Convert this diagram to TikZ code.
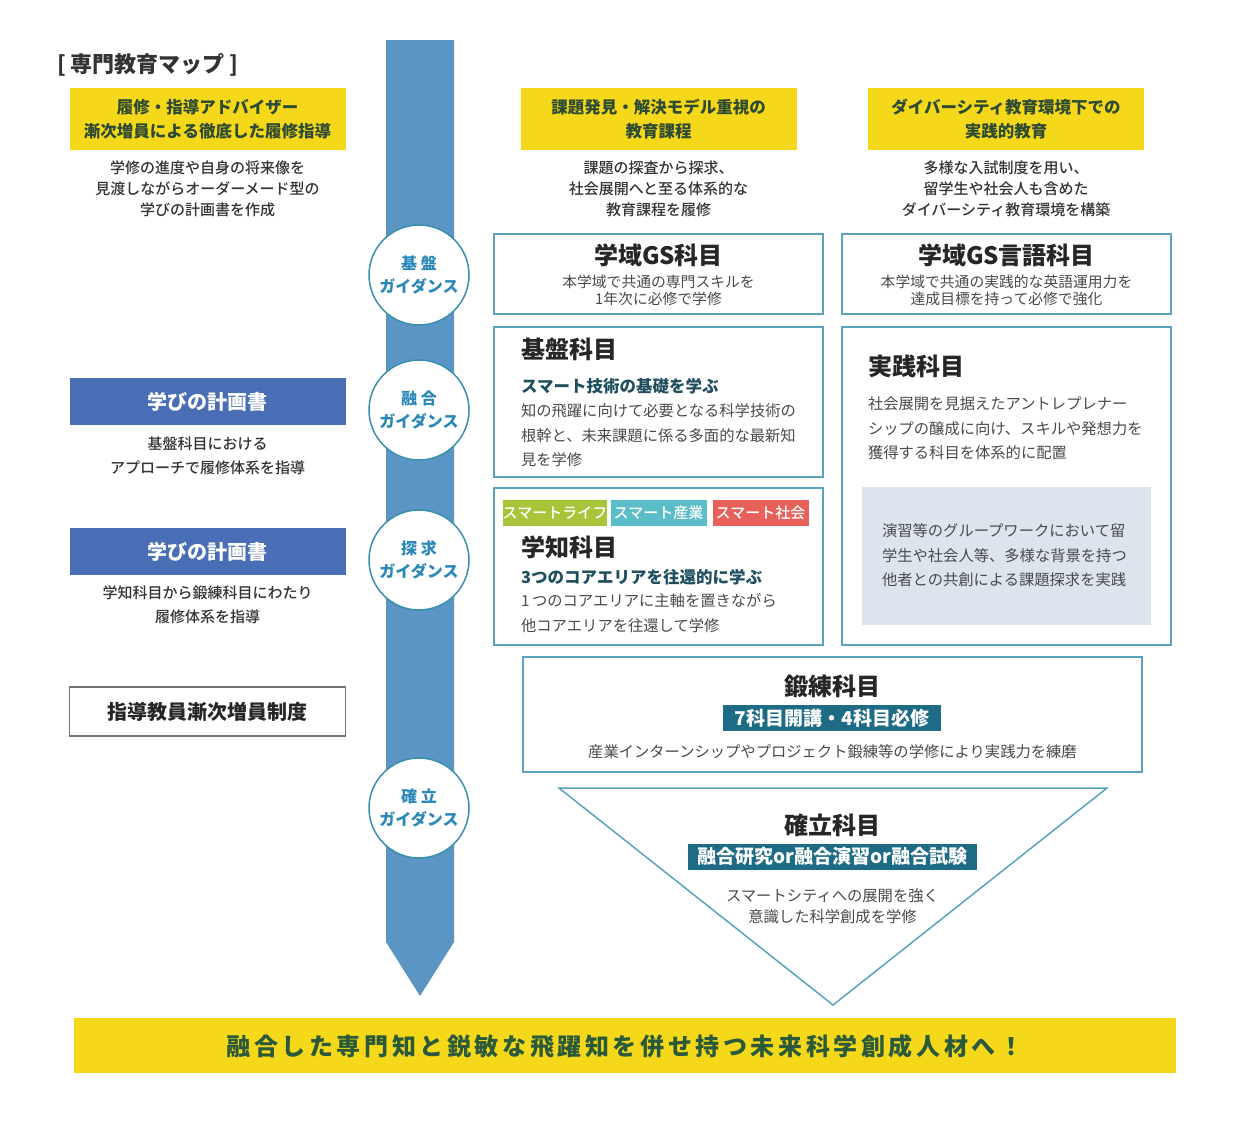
\documentclass[tikz,border=0pt]{standalone}
\usepackage{fontspec}
\setmainfont{Noto Sans CJK JP}
\newfontfamily\mediumfont{Noto Sans CJK JP Medium}
\definecolor{yel}{HTML}{F6D81A}
\definecolor{ygreen}{HTML}{2D4A32}
\definecolor{barblue}{HTML}{5A95C3}
\definecolor{guideline}{HTML}{3A8FB0}
\definecolor{guidetext}{HTML}{2A88B8}
\definecolor{frameblue}{HTML}{5AA2C0}
\definecolor{planblue}{HTML}{4A6EB6}
\definecolor{labteal}{HTML}{1E6B85}
\definecolor{subteal}{HTML}{1F4F5F}
\definecolor{txt}{HTML}{333333}
\definecolor{btxt}{HTML}{4A4A4A}
\definecolor{innerbg}{HTML}{DCE4EE}
\definecolor{tgreen}{HTML}{A8C43A}
\definecolor{tteal}{HTML}{5BBDC8}
\definecolor{tred}{HTML}{E8605A}
\definecolor{bannertext}{HTML}{2B5A3A}
\begin{document}
\begin{tikzpicture}[x=1pt,y=-1pt,
  every node/.style={inner sep=0pt, outer sep=0pt},
  ybox/.style={fill=yel, minimum width=276, minimum height=62, text=ygreen, align=center,
    font=\fontsize{16.5}{24}\selectfont\bfseries},
  desc/.style={text=txt, align=center, font=\fontsize{15}{21}\selectfont\mediumfont},
  bbox/.style={fill=planblue, text=white, minimum width=276, minimum height=47,
    font=\fontsize{20}{24}\selectfont\bfseries},
  frame/.style={draw=frameblue, line width=1.5},
  guide/.style={circle, draw=guideline, fill=white, line width=1.5, minimum size=100,
    text=guidetext, align=center, font=\fontsize{16}{23}\selectfont\bfseries},
  ttl/.style={text=black!85, font=\fontsize{24}{28}\selectfont\bfseries},
  subt/.style={text=subteal, font=\fontsize{16.5}{20}\selectfont\bfseries},
  bodyl/.style={text=btxt, align=left, font=\fontsize{15.3}{24.5}\selectfont},
  bodyc/.style={text=btxt, align=center, font=\fontsize{14.8}{17}\selectfont},
  tagbox/.style={text=white, minimum width=96, minimum height=26, font=\fontsize{15}{16}\selectfont\mediumfont},
  labbox/.style={fill=labteal, text=white, minimum height=26, font=\fontsize{19}{22}\selectfont\bfseries}
]
\useasboundingbox (0,0) rectangle (1251,1141);
\fill[white] (0,0) rectangle (1251,1141);

% central bar
\fill[barblue] (386,40) -- (454,40) -- (454,942) -- (420,996) -- (386,942) -- cycle;

% title
\node[anchor=west, text=txt, font=\fontsize{22}{24}\selectfont\bfseries] (title) at (57,65) {[ 専門教育マップ ]};

% left column
\node[ybox] (ly) at (207.5,119) {履修・指導アドバイザー\\漸次増員による徹底した履修指導};
\node[desc] (ld) at (207.5,189) {学修の進度や自身の将来像を\\見渡しながらオーダーメード型の\\学びの計画書を作成};
\node[bbox] (lb1) at (207.5,401.5) {学びの計画書};
\node[desc, font=\fontsize{15}{24}\selectfont\mediumfont] (ld1) at (207.5,456) {基盤科目における\\アプローチで履修体系を指導};
\node[bbox] (lb2) at (207.5,551.5) {学びの計画書};
\node[desc, font=\fontsize{15}{24}\selectfont\mediumfont] (ld2) at (207.5,605) {学知科目から鍛練科目にわたり\\履修体系を指導};
\node[draw=black!55, line width=1.2, minimum width=276, minimum height=49, text=black!85,
  font=\fontsize{20}{24}\selectfont\bfseries] (lw) at (207.5,711.5) {指導教員漸次増員制度};

% guidance circles
\node[guide] (g1) at (419,275) {基 盤\\ガイダンス};
\node[guide] (g2) at (419,410) {融 合\\ガイダンス};
\node[guide] (g3) at (419,560) {探 求\\ガイダンス};
\node[guide] (g4) at (419,808) {確 立\\ガイダンス};

% middle column
\node[ybox] (my) at (658.5,119) {課題発見・解決モデル重視の\\教育課程};
\node[desc] (md) at (658.5,189) {課題の探査から探求、\\社会展開へと至る体系的な\\教育課程を履修};
\node[frame, minimum width=329, minimum height=80] (gs) at (658.5,274) {};
\node[ttl] (gst) at (658.5,255) {学域GS科目};
\node[bodyc] (gsb) at (658.5,290.5) {本学域で共通の専門スキルを\\1年次に必修で学修};

\node[frame, minimum width=329, minimum height=150] (kb) at (658.5,402) {};
\node[ttl, anchor=west] (kbt) at (521,349) {基盤科目};
\node[subt, anchor=west] (kbs) at (521,386) {スマート技術の基礎を学ぶ};
\node[bodyl, anchor=west] (kbb) at (521,435.5) {知の飛躍に向けて必要となる科学技術の\\根幹と、未来課題に係る多面的な最新知\\見を学修};

\node[frame, minimum width=329, minimum height=157] (gc) at (658.5,566.5) {};
\node[tagbox, fill=tgreen] (tag1) at (555,513) {スマートライフ};
\node[tagbox, fill=tteal] (tag2) at (658.5,513) {スマート産業};
\node[tagbox, fill=tred] (tag3) at (760.5,513) {スマート社会};
\node[ttl, anchor=west] (gct) at (521,547) {学知科目};
\node[subt, anchor=west] (gcs) at (521,577) {3つのコアエリアを往還的に学ぶ};
\node[bodyl, anchor=west] (gcb) at (521,613) {1\,つのコアエリアに主軸を置きながら\\他コアエリアを往還して学修};

% right column
\node[ybox] (ry) at (1006,119) {ダイバーシティ教育環境下での\\実践的教育};
\node[desc] (rd) at (1006,189) {多様な入試制度を用い、\\留学生や社会人も含めた\\ダイバーシティ教育環境を構築};
\node[frame, minimum width=329, minimum height=80] (gl) at (1006.5,274) {};
\node[ttl] (glt) at (1006.5,255) {学域GS言語科目};
\node[bodyc] (glb) at (1006.5,290.5) {本学域で共通の実践的な英語運用力を\\達成目標を持って必修で強化};

\node[frame, minimum width=329, minimum height=318] (jp) at (1006.5,486) {};
\node[ttl, anchor=west] (jpt) at (868,366) {実践科目};
\node[bodyl, anchor=west] (jpb) at (868,428.5) {社会展開を見据えたアントレプレナー\\シップの醸成に向け、スキルや発想力を\\獲得する科目を体系的に配置};
\node[fill=innerbg, minimum width=289, minimum height=138] (inner) at (1006.5,556) {};
\node[bodyl, anchor=west] (inb) at (882,555.5) {演習等のグループワークにおいて留\\学生や社会人等、多様な背景を持つ\\他者との共創による課題探求を実践};

% training
\node[frame, minimum width=619, minimum height=115] (tr) at (832.5,714.5) {};
\node[ttl] (trt) at (832.5,686) {鍛練科目};
\node[labbox, minimum width=218] (trl) at (832,718) {7科目開講・4科目必修};
\node[text=btxt, font=\fontsize{15.3}{18}\selectfont] (trb) at (832.5,752) {産業インターンシップやプロジェクト鍛練等の学修により実践力を練磨};

% triangle
\coordinate (t1) at (559,788);
\coordinate (t2) at (1107,788);
\coordinate (t3) at (833,1005);
\draw[frameblue, line width=1.5, line join=miter] (t1) -- (t2) -- (t3) -- cycle;
\node[ttl] (kt) at (832.5,825) {確立科目};
\node[labbox, minimum width=289] (kl) at (832.5,856.5) {融合研究or融合演習or融合試験};
\node[text=btxt, align=center, font=\fontsize{15.3}{21}\selectfont] (kb2) at (832.5,906.5) {スマートシティへの展開を強く\\意識した科学創成を学修};

% banner
\node[fill=yel, minimum width=1102, minimum height=55] (ban) at (625,1045.5) {};
\node[text=bannertext, font=\fontsize{24}{28}\selectfont\bfseries\addfontfeature{LetterSpace=15}] (bant) at (625,1046) {融合した専門知と鋭敏な飛躍知を併せ持つ未来科学創成人材へ！};
\end{tikzpicture}
\end{document}
